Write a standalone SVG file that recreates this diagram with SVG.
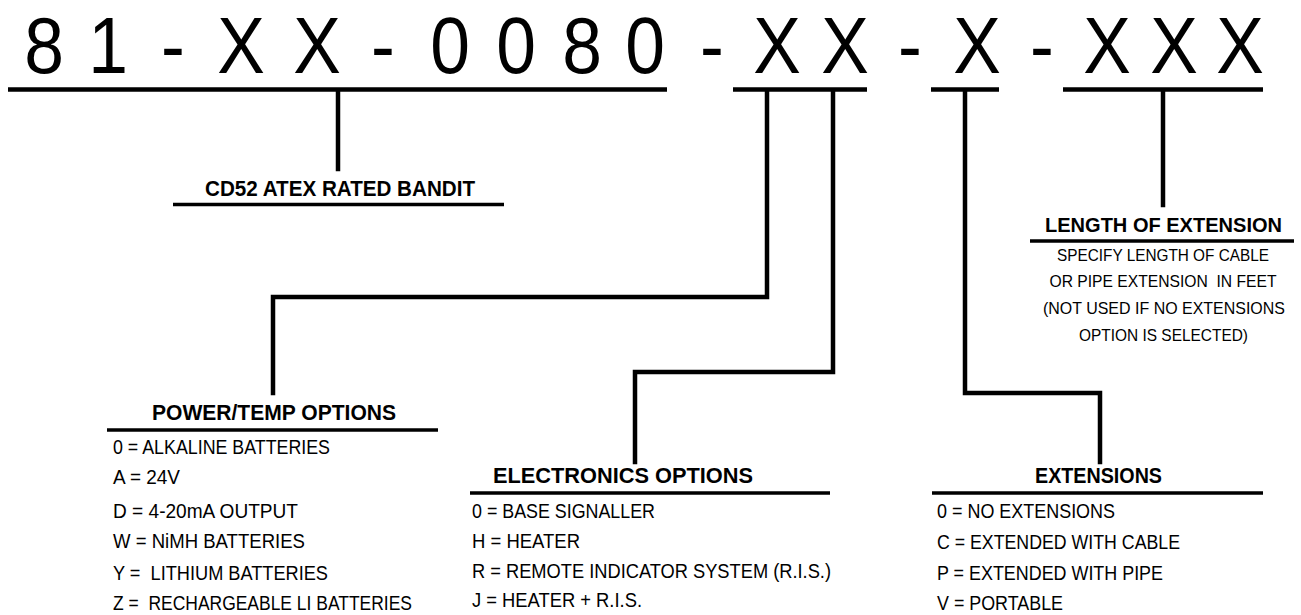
<svg xmlns="http://www.w3.org/2000/svg" width="1301" height="615" viewBox="0 0 1301 615">
<style>
  .title { font-family: "Liberation Sans", Arial, sans-serif; font-size: 80px; fill: #000; text-anchor: middle; }
  .head { font-family: "Liberation Sans", Arial, sans-serif; font-weight: bold; font-size: 22px; fill: #000; text-anchor: middle; }
  .head-sm { font-size: 20.5px; }
  .item { font-family: "Liberation Sans", Arial, sans-serif; font-size: 20px; fill: #000; white-space: pre; }
  .note { font-family: "Liberation Sans", Arial, sans-serif; font-size: 17px; fill: #000; text-anchor: middle; white-space: pre; }
  .ul { stroke: #000; stroke-width: 4.5; fill: none; }
  .hl { stroke: #000; stroke-width: 3.5; fill: none; }
  .conn { stroke: #000; stroke-width: 4.5; fill: none; stroke-linejoin: miter; stroke-linecap: square; }
</style>
<rect width="1301" height="615" fill="#fff"/>

<g id="part-number">
  <text class="title" x="44" y="73" textLength="39.7" lengthAdjust="spacingAndGlyphs">8</text>
  <text class="title" x="108" y="73" textLength="39.7" lengthAdjust="spacingAndGlyphs">1</text>
  <text class="title" x="173" y="73" textLength="23.8" lengthAdjust="spacingAndGlyphs">-</text>
  <text class="title" x="241" y="73" textLength="47.6" lengthAdjust="spacingAndGlyphs">X</text>
  <text class="title" x="317" y="73" textLength="47.6" lengthAdjust="spacingAndGlyphs">X</text>
  <text class="title" x="383" y="73" textLength="23.8" lengthAdjust="spacingAndGlyphs">-</text>
  <text class="title" x="450" y="73" textLength="39.7" lengthAdjust="spacingAndGlyphs">0</text>
  <text class="title" x="516" y="73" textLength="39.7" lengthAdjust="spacingAndGlyphs">0</text>
  <text class="title" x="582" y="73" textLength="39.7" lengthAdjust="spacingAndGlyphs">8</text>
  <text class="title" x="645" y="73" textLength="39.7" lengthAdjust="spacingAndGlyphs">0</text>
  <text class="title" x="712" y="73" textLength="23.8" lengthAdjust="spacingAndGlyphs">-</text>
  <text class="title" x="777" y="73" textLength="47.6" lengthAdjust="spacingAndGlyphs">X</text>
  <text class="title" x="845" y="73" textLength="47.6" lengthAdjust="spacingAndGlyphs">X</text>
  <text class="title" x="910" y="73" textLength="23.8" lengthAdjust="spacingAndGlyphs">-</text>
  <text class="title" x="977" y="73" textLength="47.6" lengthAdjust="spacingAndGlyphs">X</text>
  <text class="title" x="1042" y="73" textLength="23.8" lengthAdjust="spacingAndGlyphs">-</text>
  <text class="title" x="1107" y="73" textLength="47.6" lengthAdjust="spacingAndGlyphs">X</text>
  <text class="title" x="1174" y="73" textLength="47.6" lengthAdjust="spacingAndGlyphs">X</text>
  <text class="title" x="1240" y="73" textLength="47.6" lengthAdjust="spacingAndGlyphs">X</text>
  <line class="ul" x1="8" y1="89.5" x2="667" y2="89.5"/>
  <line class="ul" x1="733" y1="89.5" x2="867" y2="89.5"/>
  <line class="ul" x1="931" y1="89.5" x2="999" y2="89.5"/>
  <line class="ul" x1="1063" y1="89.5" x2="1263" y2="89.5"/>
</g>

<g id="connectors">
  <polyline class="conn" points="338,91 338,169"/>
  <polyline class="conn" points="767,91 767,297 273,297 273,393"/>
  <polyline class="conn" points="833,91 833,372 635,372 635,462"/>
  <polyline class="conn" points="965,91 965,393 1100,393 1100,462"/>
  <polyline class="conn" points="1163,91 1163,205"/>
</g>

<g id="node-cd52">
  <text class="head" x="340" y="196" textLength="270" lengthAdjust="spacingAndGlyphs">CD52 ATEX RATED BANDIT</text>
  <line class="hl" x1="173" y1="204.5" x2="504" y2="204.5"/>
</g>

<g id="node-length">
  <text class="head head-sm" x="1163.5" y="232" textLength="237" lengthAdjust="spacingAndGlyphs">LENGTH OF EXTENSION</text>
  <line class="hl" x1="1030" y1="241" x2="1294" y2="241"/>
  <text class="note" x="1163" y="261" textLength="212" lengthAdjust="spacingAndGlyphs">SPECIFY LENGTH OF CABLE</text>
  <text class="note" x="1163" y="287" textLength="227" lengthAdjust="spacingAndGlyphs">OR PIPE EXTENSION  IN FEET</text>
  <text class="note" x="1164" y="314" textLength="242" lengthAdjust="spacingAndGlyphs">(NOT USED IF NO EXTENSIONS</text>
  <text class="note" x="1163.5" y="341" textLength="169" lengthAdjust="spacingAndGlyphs">OPTION IS SELECTED)</text>
</g>

<g id="node-power">
  <text class="head" x="274" y="420" textLength="244" lengthAdjust="spacingAndGlyphs">POWER/TEMP OPTIONS</text>
  <line class="hl" x1="107" y1="430" x2="438" y2="430"/>
  <text class="item" x="113" y="454" textLength="217" lengthAdjust="spacingAndGlyphs">0 = ALKALINE BATTERIES</text>
  <text class="item" x="113" y="484" textLength="67" lengthAdjust="spacingAndGlyphs">A = 24V</text>
  <text class="item" x="113" y="518" textLength="185" lengthAdjust="spacingAndGlyphs">D = 4-20mA OUTPUT</text>
  <text class="item" x="113" y="548" textLength="192" lengthAdjust="spacingAndGlyphs">W = NiMH BATTERIES</text>
  <text class="item" x="113" y="580" textLength="215" lengthAdjust="spacingAndGlyphs">Y =  LITHIUM BATTERIES</text>
  <text class="item" x="113" y="609.5" textLength="299" lengthAdjust="spacingAndGlyphs">Z =  RECHARGEABLE LI BATTERIES</text>
</g>

<g id="node-electronics">
  <text class="head" x="623" y="483" textLength="260" lengthAdjust="spacingAndGlyphs">ELECTRONICS OPTIONS</text>
  <line class="hl" x1="470" y1="493" x2="830" y2="493"/>
  <text class="item" x="472" y="518" textLength="183" lengthAdjust="spacingAndGlyphs">0 = BASE SIGNALLER</text>
  <text class="item" x="472" y="548" textLength="108" lengthAdjust="spacingAndGlyphs">H = HEATER</text>
  <text class="item" x="472" y="578" textLength="359" lengthAdjust="spacingAndGlyphs">R = REMOTE INDICATOR SYSTEM (R.I.S.)</text>
  <text class="item" x="472" y="607" textLength="170" lengthAdjust="spacingAndGlyphs">J = HEATER + R.I.S.</text>
</g>

<g id="node-extensions">
  <text class="head" x="1098.5" y="483" textLength="127" lengthAdjust="spacingAndGlyphs">EXTENSIONS</text>
  <line class="hl" x1="932" y1="493" x2="1263" y2="493"/>
  <text class="item" x="937" y="518" textLength="178" lengthAdjust="spacingAndGlyphs">0 = NO EXTENSIONS</text>
  <text class="item" x="937" y="549" textLength="243" lengthAdjust="spacingAndGlyphs">C = EXTENDED WITH CABLE</text>
  <text class="item" x="937" y="580" textLength="226" lengthAdjust="spacingAndGlyphs">P = EXTENDED WITH PIPE</text>
  <text class="item" x="937" y="609.5" textLength="126" lengthAdjust="spacingAndGlyphs">V = PORTABLE</text>
</g>
</svg>
